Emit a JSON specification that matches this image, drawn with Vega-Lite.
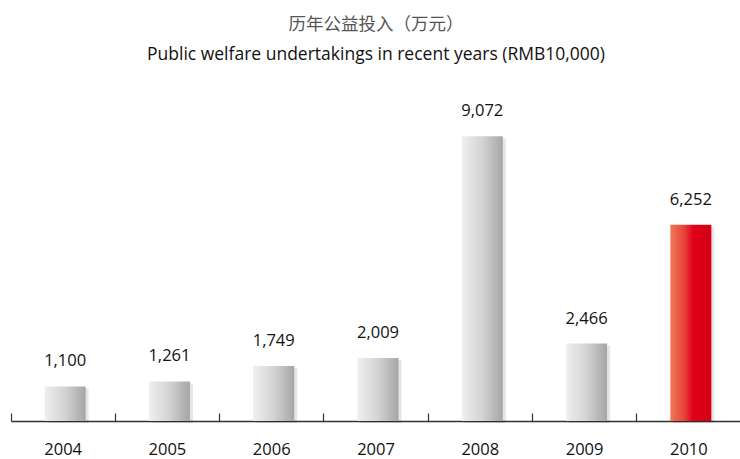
{
  "$schema": "https://vega.github.io/schema/vega-lite/v6.json",
  "autosize": "none",
  "width": 730,
  "height": 314,
  "padding": {"left": 11, "top": 107, "right": 0, "bottom": 38},
  "background": "white",
  "config": {"view": {"stroke": null}, "font": "Open Sans"},
  "title": {
    "text": "历年公益投入（万元）",
    "subtitle": "Public welfare undertakings in recent years (RMB10,000)",
    "anchor": "middle",
    "font": "Noto Sans CJK SC",
    "fontSize": 17.5,
    "fontWeight": "normal",
    "color": "#555555",
    "subtitleFont": "Open Sans",
    "subtitleFontSize": 17.5,
    "subtitleColor": "#111111",
    "subtitlePadding": 12,
    "offset": 40
  },
  "data": {
    "values": [
      {"year": "2004", "value": 1100},
      {"year": "2005", "value": 1261},
      {"year": "2006", "value": 1749},
      {"year": "2007", "value": 2009},
      {"year": "2008", "value": 9072},
      {"year": "2009", "value": 2466},
      {"year": "2010", "value": 6252}
    ]
  },
  "encoding": {
    "x": {
      "field": "year", "type": "ordinal",
      "scale": {"paddingInner": 0, "paddingOuter": 0},
      "axis": {
        "title": null,
        "labelAngle": 0,
        "bandPosition": 0,
        "domainColor": "#333333",
        "domainWidth": 1.5,
        "tickColor": "#333333",
        "tickWidth": 1.2,
        "tickSize": -8,
        "labelPadding": 28,
        "labelFont": "Open Sans",
        "labelFontSize": 16.5,
        "labelColor": "#111111"
      }
    },
    "y": {"field": "value", "type": "quantitative", "scale": {"domain": [0, 10000]}, "axis": null}
  },
  "layer": [
    {
      "mark": {"type": "bar", "size": 41, "color": "#000000", "opacity": 0.1, "xOffset": 5, "yOffset": 2, "clip": false}
    },
    {
      "transform": [{"filter": "datum.year != '2010'"}],
      "mark": {
        "type": "bar",
        "size": 41,
        "xOffset": 2,
        "color": {
          "gradient": "linear", "x1": 0, "y1": 0, "x2": 1, "y2": 0,
          "stops": [
            {"offset": 0, "color": "#efefef"},
            {"offset": 0.5, "color": "#d3d3d3"},
            {"offset": 1, "color": "#a5a5a5"}
          ]
        }
      }
    },
    {
      "transform": [{"filter": "datum.year == '2010'"}],
      "mark": {
        "type": "bar",
        "size": 41,
        "xOffset": 2,
        "color": {
          "gradient": "linear", "x1": 0, "y1": 0, "x2": 1, "y2": 0,
          "stops": [
            {"offset": 0, "color": "#ef7a55"},
            {"offset": 0.35, "color": "#e8403a"},
            {"offset": 0.55, "color": "#e2001a"},
            {"offset": 1, "color": "#d20016"}
          ]
        }
      }
    },
    {
      "mark": {"type": "text", "baseline": "alphabetic", "dy": -20, "dx": 2, "font": "Open Sans", "fontSize": 16.5, "color": "#111111"},
      "encoding": {
        "text": {"field": "value", "type": "quantitative", "format": ","}
      }
    }
  ]
}
